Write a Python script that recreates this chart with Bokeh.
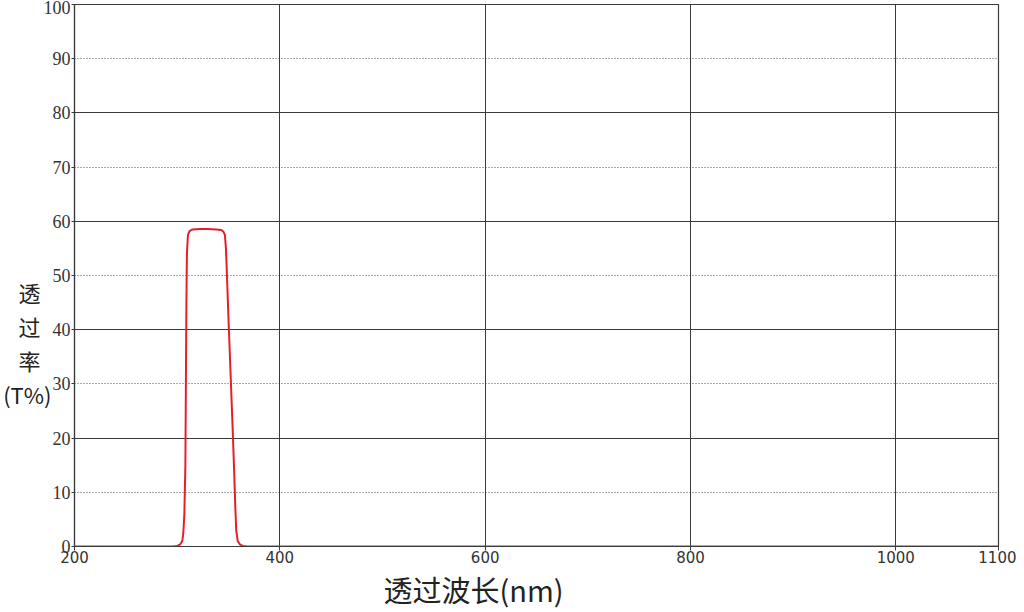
from bokeh.plotting import figure
from bokeh.models import FixedTicker, Grid, Range1d, Title
from bokeh.embed import file_html
from bokeh.resources import INLINE

# ---- data ----
wavelength = [200, 295, 300, 303, 305, 306, 307, 308, 308.5, 309, 309.5, 310.5, 312, 315,
              322, 330, 338, 343, 345, 346.5, 347.5, 348.5, 350, 352, 354, 355.5, 356.5,
              357.5, 359, 361, 364, 368, 1100]
transmit = [0, 0, 0.1, 0.4, 1.0, 2.5, 6, 15, 30, 45, 54, 57.5, 58.2, 58.5,
            58.6, 58.6, 58.5, 58.4, 58.1, 57.5, 55, 50, 42, 32, 22, 14, 8,
            3, 1, 0.4, 0.1, 0, 0]
x_ticks = [200, 400, 600, 800, 1000, 1100]
x_grid = [400, 600, 800, 1000]
y_ticks = [0, 10, 20, 30, 40, 50, 60, 70, 80, 90, 100]
y_solid = [20, 40, 60, 80, 100]
y_dotted = [10, 30, 50, 70, 90]
y_label = "\u3000\n\u3000\n\u3000\n\u3000\n透\u2002\n过\u2002\n率\u2002\n(T%)"
x_label = "透过波长(nm)"

p = figure(width=1016, height=610, output_backend="svg", toolbar_location=None,
           x_range=Range1d(200, 1100), y_range=Range1d(0, 100),
           min_border_left=74, min_border_right=18, min_border_top=4, min_border_bottom=64)

p.background_fill_color = "white"
p.outline_line_color = "#3a3a3a"
p.outline_line_width = 1.2

# axes
p.xaxis.ticker = FixedTicker(ticks=x_ticks)
p.yaxis.ticker = FixedTicker(ticks=y_ticks)
for ax in (p.xaxis[0], p.yaxis[0]):
    ax.axis_line_color = "#3a3a3a"
    ax.axis_line_width = 1.2
    ax.major_tick_line_color = "#3a3a3a"
    ax.minor_tick_line_color = None
    ax.major_tick_in = 0
    ax.major_label_text_color = "#333333"
p.xaxis.major_tick_out = 4
p.yaxis.major_tick_out = 3
p.xaxis.major_label_text_font = "DejaVu Sans"
p.xaxis.major_label_text_font_size = "15px"
p.xaxis.major_label_standoff = 0
p.yaxis.major_label_text_font = "Liberation Serif"
p.yaxis.major_label_text_font_size = "18px"
p.yaxis.major_label_standoff = 1

p.yaxis.axis_label = y_label
p.yaxis.axis_label_orientation = "horizontal"
p.yaxis.axis_label_text_font = "Noto Sans CJK SC"
p.yaxis.axis_label_text_font_style = "normal"
p.yaxis.axis_label_text_font_size = "22px"
p.yaxis.axis_label_text_line_height = 1.06
p.yaxis.axis_label_text_color = "#222222"
p.yaxis.axis_label_standoff = -11

# grids
p.xgrid.ticker = FixedTicker(ticks=x_grid)
p.xgrid.grid_line_color = "#3a3a3a"
p.xgrid.grid_line_width = 1
p.ygrid.ticker = FixedTicker(ticks=y_solid)
p.ygrid.grid_line_color = "#3a3a3a"
p.ygrid.grid_line_width = 1
dot_grid = Grid(dimension=1, ticker=FixedTicker(ticks=y_dotted),
                grid_line_color="#555555", grid_line_dash="1 2", grid_line_width=1)
p.add_layout(dot_grid)

# curve
p.line(wavelength, transmit, line_color="#e3202a", line_width=2)

# x axis label
p.add_layout(Title(text=x_label, align="left", offset=309, text_font="Noto Sans CJK SC",
                   text_font_size="29px", text_font_style="normal",
                   text_color="#222222", standoff=0), "below")

open("out.html", "w").write(file_html(p, INLINE))
